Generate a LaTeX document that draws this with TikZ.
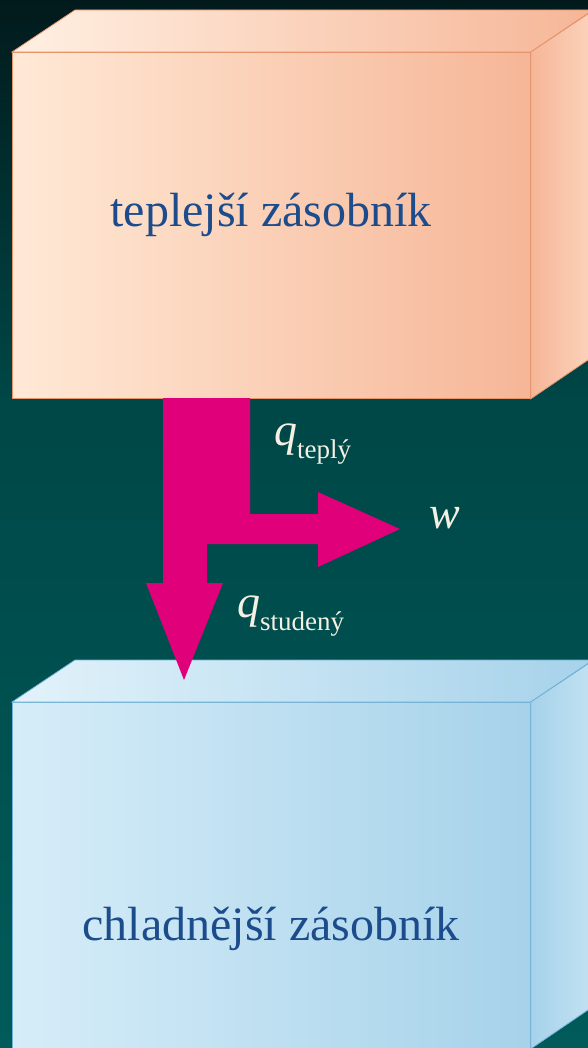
\documentclass[tikz,border=0pt]{standalone}
\usepackage{fontspec}
\setmainfont{Liberation Serif}
\usetikzlibrary{calc}
\definecolor{Abyss}{HTML}{021A1C}
\definecolor{Sea}{HTML}{004747}
\definecolor{SeaLight}{HTML}{005B5A}
\definecolor{PeachL}{HTML}{FFE9D6}
\definecolor{PeachR}{HTML}{F6B697}
\definecolor{PeachEdge}{HTML}{E5946C}
\definecolor{IceL}{HTML}{D6EDF8}
\definecolor{IceR}{HTML}{A6D2EA}
\definecolor{IceEdge}{HTML}{72B2D6}
\definecolor{Ink}{HTML}{1C4C8C}
\definecolor{Flow}{HTML}{E0007A}
\definecolor{Cream}{HTML}{F4F1E4}
\newcommand{\flowlabel}[2]{{\fontsize{46}{46}\selectfont\itshape #1}\raisebox{-13pt}{\fontsize{27}{27}\selectfont #2}}

\begin{document}
\begin{tikzpicture}[x=1pt,y=-1pt]
    \tikzset{front/.style={minimum width=518pt,minimum height=346pt,inner sep=0pt,
      line width=0.8pt,anchor=north west},
      tank/.style={font=\fontsize{48}{56}\selectfont,text=Ink,inner sep=0pt},
      flowtext/.style={text=Cream,anchor=base west,inner sep=0pt}}
    \useasboundingbox (0,0) rectangle (588,1048);
    \shade[top color=Abyss,bottom color=Sea] (0,0) rectangle (588,401);
    \shade[top color=Sea,bottom color=SeaLight] (0,400) rectangle (588,1048);
    \clip (0,0) rectangle (588,1048);

    % warmer reservoir
    \node[front,left color=PeachL,right color=PeachR,draw=PeachEdge] (hot) at (12,52) {};
    \shadedraw[left color=PeachL!70!white,right color=PeachR,draw=PeachEdge,line width=0.8pt]
      (hot.north west) -- ++(63,-42) -- ++(518,0) -- (hot.north east) -- cycle;
    \shadedraw[left color=PeachR,right color=PeachL!60!PeachR,draw=PeachEdge,line width=0.8pt]
      (hot.north east) -- ++(63,-42) -- ++(0,346) -- (hot.south east) -- cycle;
    \node[tank] (hotname) at (271,215) {teplejší zásobník};

    % colder reservoir
    \node[front,left color=IceL,right color=IceR,draw=IceEdge] (cold) at (12,702) {};
    \shadedraw[left color=IceL!70!white,right color=IceR,draw=IceEdge,line width=0.8pt]
      (cold.north west) -- ++(63,-42) -- ++(518,0) -- (cold.north east) -- cycle;
    \shadedraw[left color=IceR,right color=IceL!60!IceR,draw=IceEdge,line width=0.8pt]
      (cold.north east) -- ++(63,-42) -- ++(0,346) -- (cold.south east) -- cycle;
    \node[tank] (coldname) at (271,929) {chladnější zásobník};

    % split flow
    \fill[Flow] (163,398) -- (250,398) -- (250,514) -- (318,514) -- (318,492)
      -- (400,529) -- (318,567) -- (318,544) -- (207,544) -- (207,583)
      -- (223,583) -- (184,680) -- (146,583) -- (163,583) -- cycle;

    \node[flowtext] (qhot) at (274,445) {\flowlabel{q}{teplý}};
    \node[flowtext,font=\fontsize{46}{46}\selectfont\itshape] (work) at (429,528) {w};
    \node[flowtext] (qcold) at (237,617) {\flowlabel{q}{studený}};
\end{tikzpicture}
\end{document}
